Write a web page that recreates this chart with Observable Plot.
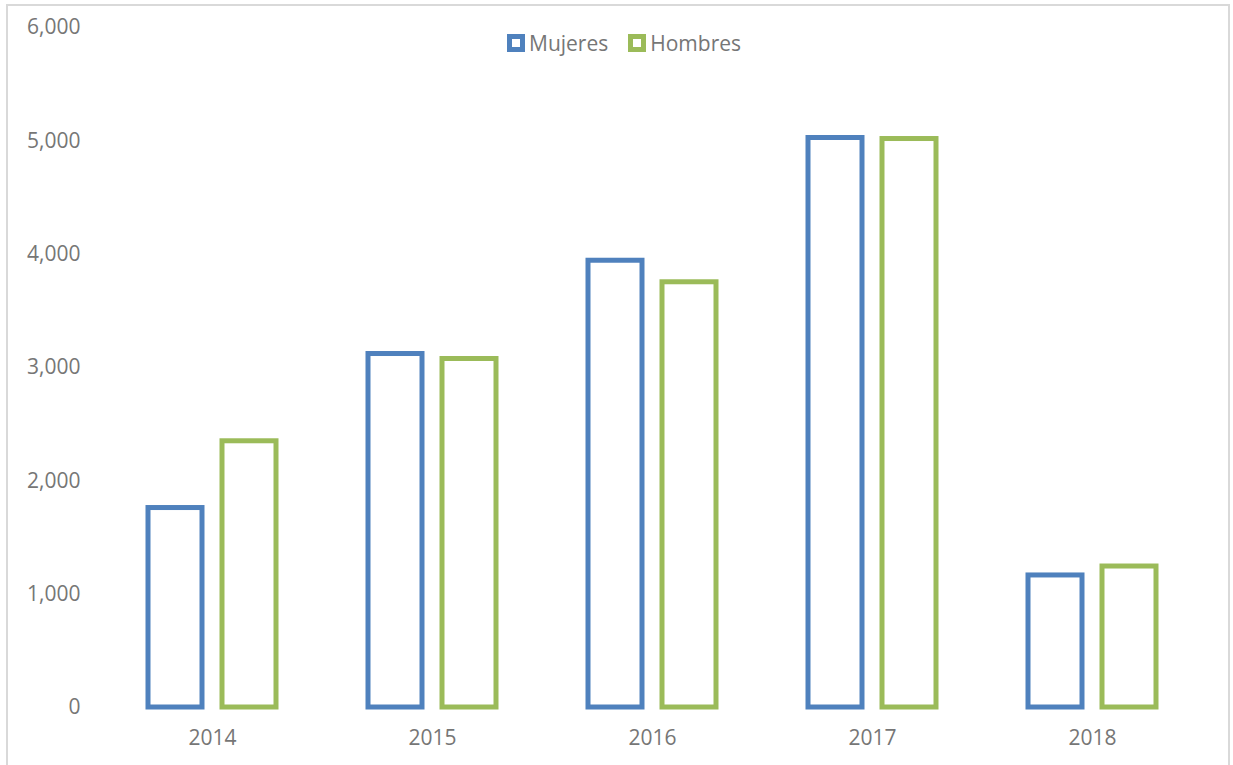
<!DOCTYPE html>
<html>
<head>
<meta charset="utf-8">
<script src="https://cdn.jsdelivr.net/npm/d3@7"></script>
<script src="https://cdn.jsdelivr.net/npm/@observablehq/plot@0.6"></script>
<style>
  html, body { margin: 0; padding: 0; background: #fff; }
  #wrap { position: relative; width: 1233px; height: 765px; overflow: hidden; font-family: "Open Sans", "Noto Sans", sans-serif; }
  #frame { position: absolute; left: 6px; top: 4px; width: 1224px; height: 800px; border: 2px solid #d9d9d9; box-sizing: border-box; pointer-events: none; }
  #legend { position: absolute; left: 507px; top: 29px; display: flex; align-items: center; font-size: 21px; color: #767676; }
  .item { display: flex; align-items: center; margin-right: 20px; }
  .sw { width: 18px; height: 18px; box-sizing: border-box; border: 5px solid; background: #fff; margin-right: 4px; }
  #chart { position: absolute; left: 0; top: 0; }
</style>
</head>
<body>
<div id="wrap">
  <div id="chart"></div>
  <div id="frame"></div>
  <div id="legend"></div>
</div>
<script>
const years = ["2014", "2015", "2016", "2017", "2018"];
const series = ["Mujeres", "Hombres"];
const colors = ["#4f81bd", "#9bbb59"];
const mujeres = [1760, 3119, 3942, 5025, 1165];
const hombres = [2349, 3075, 3752, 5016, 1244];
const yTicks = [0, 1000, 2000, 3000, 4000, 5000, 6000];

const data = [];
years.forEach((y, i) => {
  data.push({year: y, sexo: "Mujeres", value: mujeres[i]});
  data.push({year: y, sexo: "Hombres", value: hombres[i]});
});

const chart = Plot.plot({
  width: 1233,
  height: 765,
  marginLeft: 101,
  marginRight: 30,
  marginTop: 27,
  marginBottom: 58,
  style: {fontFamily: "'Open Sans', 'Noto Sans', sans-serif", fontSize: "21px", color: "#767676", background: "transparent"},
  fx: {domain: years, padding: 0, label: null, axis: "bottom", tickSize: 0, tickPadding: 23},
  x: {domain: series, axis: null, paddingInner: 0.2667, paddingOuter: 0.6027},
  y: {domain: [0, 6000], ticks: yTicks, tickFormat: d3.format(","), tickSize: 0, tickPadding: 22, label: null},
  color: {domain: series, range: colors},
  marks: [
    Plot.barY(data, {fx: "year", x: "sexo", y: "value", fill: "white", stroke: "sexo", strokeWidth: 5})
  ]
});
document.getElementById("chart").appendChild(chart);

const legend = document.getElementById("legend");
series.forEach((s, i) => {
  const it = document.createElement("div");
  it.className = "item";
  const sw = document.createElement("div");
  sw.className = "sw";
  sw.style.borderColor = colors[i];
  const t = document.createElement("span");
  t.textContent = s;
  it.appendChild(sw);
  it.appendChild(t);
  legend.appendChild(it);
});
</script>
</body>
</html>
